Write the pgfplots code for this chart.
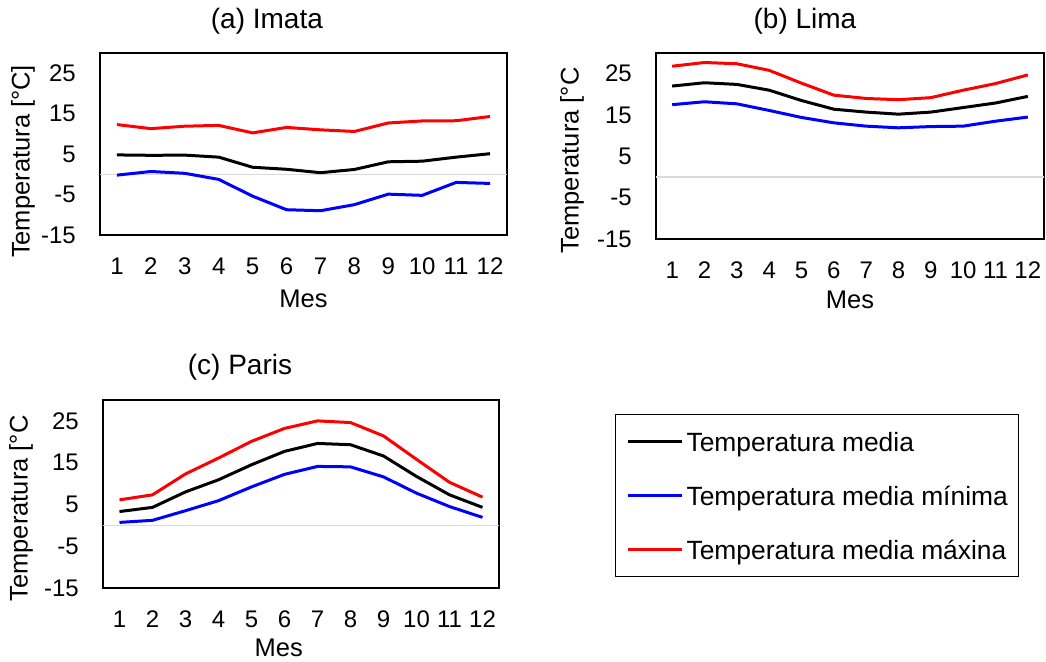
\documentclass[border=0pt]{standalone}
\usepackage{fontspec}
\setmainfont{Liberation Sans}
\usepackage{pgfplots}
\pgfplotsset{compat=1.18}
\usepackage{pgfplotstable}

\pgfplotstableread{
m  med  mn   mx
1  4.8  -0.2 12.3
2  4.7  0.7  11.3
3  4.75 0.25 11.9
4  4.25 -1.25 12.1
5  1.75 -5.4 10.25
6  1.25 -8.75 11.6
7  0.4  -9.0 11.0
8  1.2  -7.5 10.6
9  3.1  -4.9 12.7
10 3.25 -5.2 13.2
11 4.25 -2.0 13.25
12 5.1  -2.25 14.3
}\imata

\pgfplotstableread{
m  med  mn   mx
1  22.0 17.5 26.8
2  22.8 18.2 27.7
3  22.4 17.7 27.4
4  21.0 16.1 25.8
5  18.5 14.4 22.7
6  16.4 13.1 19.8
7  15.7 12.3 19.0
8  15.2 11.9 18.7
9  15.7 12.2 19.2
10 16.8 12.3 21.0
11 17.9 13.5 22.6
12 19.5 14.5 24.7
}\lima

\pgfplotstableread{
m  med  mn   mx
1  3.3  0.7  6.1
2  4.3  1.2  7.3
3  8.0  3.5  12.3
4  10.9 5.9  16.1
5  14.5 9.2  20.1
6  17.7 12.2 23.2
7  19.6 14.1 25.0
8  19.3 14.0 24.6
9  16.6 11.6 21.4
10 11.7 7.7  15.8
11 7.3  4.5  10.3
12 4.3  1.9  6.75
}\paris

\pgfplotsset{
  panel/.style={
    scale only axis,
    anchor=south west,
    xmin=0.5, xmax=12.5,
    ymin=-15, ymax=30,
    xtick={1,...,12},
    xticklabels={1,2,3,4,5,6,7,8,9,10,11,12},
    ytick={-15,-5,5,15,25},
    yticklabels={-15,-5,5,15,25},
    major tick length=0pt,
    axis line style={line width=1.3pt, black},
    tick label style={font=\fontsize{24}{28}\selectfont, inner sep=0pt},
    xticklabel style={yshift=-23pt},
    yticklabel style={xshift=-24pt},
    label style={font=\fontsize{25.5}{30}\selectfont, inner sep=0pt},
    title style={font=\fontsize{28}{32}\selectfont, inner sep=0pt, anchor=base},
    extra y ticks={0},
    extra y tick labels={},
    extra y tick style={grid=major, major grid style={draw=black!15, line width=1.5pt}},
    clip=false,
  },
  ser/.style={line width=3pt, line join=round, mark=none},
  legend image code/.code={\draw[#1, line width=3pt] (0pt,0pt) -- (54pt,0pt);},
}

\begin{document}
\begin{tikzpicture}
\useasboundingbox (0,0) rectangle (1046pt,661pt);

% (a) Imata
\begin{axis}[panel, at={(100pt,426pt)}, width=407pt, height=182pt,
  title={(a) Imata}, title style={at={(axis description cs:0.41,1)}, yshift=18pt},
  xlabel={Mes}, xlabel style={at={(axis description cs:0.5,0)}, anchor=base, yshift=-73pt},
  ylabel={Temperatura [°C]}, ylabel style={at={(axis description cs:0,0.404)}, anchor=center, yshift=77pt},
]
\addplot[ser, black] table[x=m, y=med] {\imata};
\addplot[ser, blue] table[x=m, y=mn] {\imata};
\addplot[ser, red] table[x=m, y=mx] {\imata};
\end{axis}

% (b) Lima
\begin{axis}[panel, at={(656pt,422pt)}, width=388pt, height=186pt,
  title={(b) Lima}, title style={at={(axis description cs:0.384,1)}, yshift=18pt},
  xlabel={Mes}, xlabel style={at={(axis description cs:0.5,0)}, anchor=base, yshift=-70pt},
  ylabel={Temperatura [°C}, ylabel style={at={(axis description cs:0,0.422)}, anchor=center, yshift=84pt},
]
\addplot[ser, black] table[x=m, y=med] {\lima};
\addplot[ser, blue] table[x=m, y=mn] {\lima};
\addplot[ser, red] table[x=m, y=mx] {\lima};
\end{axis}

% (c) Paris
\begin{axis}[panel, at={(103pt,73pt)}, width=396pt, height=188pt,
  title={(c) Paris}, title style={at={(axis description cs:0.346,1)}, yshift=20pt},
  xlabel={Mes}, xlabel style={at={(axis description cs:0.444,0)}, anchor=base, yshift=-68pt},
  ylabel={Temperatura [°C}, ylabel style={at={(axis description cs:0,0.423)}, anchor=center, yshift=82pt},
  legend style={at={(axis description cs:1.293,0.9255)}, anchor=north west,
    draw=black, line width=1pt, inner xsep=11pt, inner ysep=6pt,
    font=\fontsize{26.4}{31}\selectfont, row sep=11pt, column sep=3pt,
    nodes={inner sep=0pt, text height=31.4pt, text depth=11.3pt, line width=3pt}},
  legend cell align=left,
]
\addplot[ser, black] table[x=m, y=med] {\paris};
\addlegendentry{Temperatura media}
\addplot[ser, blue] table[x=m, y=mn] {\paris};
\addlegendentry{Temperatura media mínima}
\addplot[ser, red] table[x=m, y=mx] {\paris};
\addlegendentry{Temperatura media máxina}
\end{axis}
\end{tikzpicture}
\end{document}
